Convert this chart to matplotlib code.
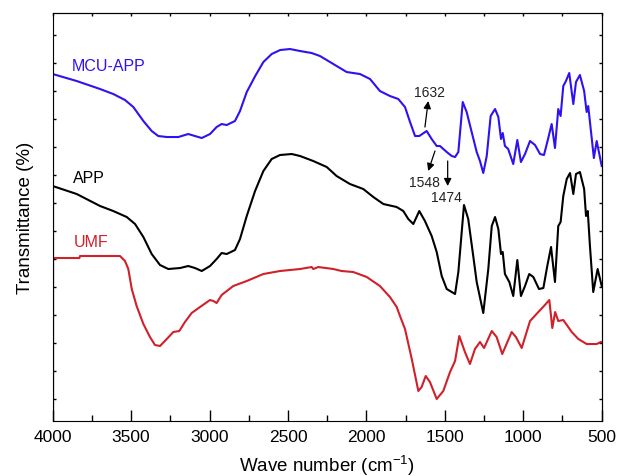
import matplotlib
matplotlib.use('Agg')
import matplotlib.pyplot as plt

plt.rcParams['font.family'] = ['Liberation Sans', 'DejaVu Sans']
plt.rcParams['mathtext.default'] = 'regular'

# FTIR spectra (transmittance in arbitrary, offset units)
mcu_wn = [4000, 3847, 3698, 3614, 3539, 3486, 3422, 3369, 3327, 3273, 3199, 3136, 3093,
          3050, 2997, 2955, 2923, 2891, 2838, 2806, 2763, 2709, 2657, 2604, 2550, 2487,
          2423, 2349, 2296, 2211, 2126, 2041, 1977, 1914, 1850, 1797, 1754, 1722, 1690,
          1663, 1616, 1584, 1552, 1531, 1488, 1456, 1435, 1414, 1386, 1361, 1329, 1297,
          1276, 1255, 1233, 1208, 1180, 1159, 1142, 1131, 1117, 1096, 1064, 1038, 1015,
          989, 957, 925, 893, 868, 847, 819, 798, 777, 762, 745, 728, 707, 681, 664,
          639, 612, 596, 586, 550, 532, 500]
mcu_t = [347, 340, 332, 327, 321, 314, 300, 290, 285, 284, 284, 287, 285,
         283, 287, 294, 297, 296, 300, 310, 329, 345, 359, 367, 371, 372,
         370, 368, 365, 357, 349, 347, 342, 330, 325, 322, 314, 299, 285,
         285, 290, 282, 275, 275, 269, 265, 264, 269, 319, 309, 289, 269,
         260, 248, 265, 305, 312, 304, 282, 288, 275, 272, 257, 281, 259,
         267, 280, 276, 267, 266, 279, 297, 273, 312, 305, 335, 340, 348, 317, 339,
         346, 330, 309, 315, 263, 280, 255]

app_wn = [4000, 3847, 3698, 3614, 3528, 3475, 3422, 3369, 3316, 3263, 3188, 3136, 3093,
          3050, 2997, 2955, 2923, 2891, 2838, 2806, 2763, 2710, 2657, 2604, 2551, 2476,
          2423, 2339, 2253, 2190, 2105, 2020, 1956, 1892, 1807, 1765, 1733, 1701, 1663,
          1627, 1584, 1552, 1520, 1488, 1435, 1414, 1378, 1351, 1319, 1297, 1255, 1223,
          1201, 1180, 1159, 1142, 1131, 1117, 1089, 1064, 1038, 1015, 989, 962, 936,
          900, 872, 847, 823, 798, 777, 762, 745, 723, 702, 681, 664, 639, 612, 600,
          589, 575, 554, 526, 500]
app_t = [235, 227, 215, 210, 204, 197, 184, 167, 156, 152, 153, 155, 153,
         150, 155, 162, 168, 167, 171, 182, 205, 230, 250, 262, 266, 267,
         265, 260, 254, 245, 237, 232, 224, 217, 214, 210, 202, 197, 210,
         200, 185, 169, 145, 132, 127, 149, 216, 202, 165, 139, 108, 152,
         195, 204, 192, 167, 169, 147, 139, 125, 161, 125, 135, 147, 144,
         132, 133, 155, 174, 139, 195, 199, 225, 242, 248, 227, 247, 249, 232, 205,
         210, 175, 129, 152, 135]

umf_wn = [4000, 3830, 3826, 3571, 3539, 3518, 3496, 3465, 3422, 3380, 3348, 3316, 3273,
          3231, 3193, 3157, 3114, 3061, 2997, 2976, 2955, 2923, 2849, 2763, 2657, 2551,
          2423, 2349, 2339, 2307, 2211, 2158, 2084, 1998, 1914, 1850, 1807, 1786, 1754,
          1711, 1669, 1648, 1622, 1595, 1552, 1510, 1467, 1435, 1408, 1372, 1340, 1308,
          1276, 1250, 1201, 1170, 1134, 1074, 1047, 1010, 957, 904, 868, 834, 815, 797,
          777, 745, 691, 649, 596, 532, 506, 500]
umf_t = [163, 163, 165, 165, 160, 152, 132, 115, 97, 84, 76, 75, 82,
         89, 90, 99, 108, 114, 121, 120, 118, 126, 135, 140, 147, 150,
         152, 154, 152, 154, 152, 150, 149, 144, 135, 124, 114, 105, 92,
         62, 30, 34, 45, 39, 22, 30, 49, 60, 85, 69, 57, 72,
         79, 73, 90, 84, 67, 89, 84, 73, 100, 109, 115, 121, 93, 109,
         100, 101, 89, 82, 77, 77, 79, 79]

names = ['APP', 'MCU-APP', 'UMF']
colors = ['black', '#2f12f0', '#d0202a']
label_pos = [(3873, 244), (3879, 356), (3869, 180)]

# peak marks on the MCU-APP curve: (text, text x, text y, arrow tail, arrow head)
peaks = [('1632', 1595, 329, (1627, 294), (1606, 320)),
         ('1548', 1627, 239, (1563, 270), (1606, 250)),
         ('1474', 1488, 224, (1482, 260), (1482, 235))]

fig = plt.figure(figsize=(6.26, 4.77), dpi=100)
ax = fig.add_axes([0.0842, 0.1153, 0.877, 0.8553])

series = [(app_wn, app_t), (mcu_wn, mcu_t), (umf_wn, umf_t)]
for (wn, t), name, c, (lx, ly) in zip(series, names, colors, label_pos):
    ax.plot(wn, t, color=c, lw=1.5, solid_joinstyle='round')
    ax.vlines(wn[0], 0, t[0], color=c, lw=1.5)
    ax.text(lx, ly, name, color=c, fontsize=11.5, ha='left', va='center')

for txt, tx, ty, tail, head in peaks:
    ax.text(tx, ty, txt, fontsize=10, ha='center', va='center', color='#222222')
    ax.annotate('', xy=head, xytext=tail,
                arrowprops=dict(arrowstyle='-|>', color='k', lw=0.9, mutation_scale=11,
                                shrinkA=0, shrinkB=0))

ax.set_xlim(4000, 500)
ax.set_ylim(0, 408)
ax.set_xticks([4000, 3500, 3000, 2500, 2000, 1500, 1000, 500])
ax.set_xticks(range(3750, 500, -500), minor=True)
ax.set_yticks(range(22, 390, 28))
ax.set_yticklabels([])
ax.tick_params(axis='x', which='major', direction='in', length=8, width=1, labelsize=12.5, pad=6)
ax.tick_params(axis='x', which='minor', direction='in', length=4, width=1)
ax.tick_params(axis='y', direction='in', length=2.5, width=1)

top = ax.secondary_xaxis('top')
top.set_xticks(range(4000, 499, -250))
top.set_xticklabels([])
top.tick_params(direction='in', length=2, width=1)
right = ax.secondary_yaxis('right')
right.set_yticks(range(22, 390, 28))
right.set_yticklabels([])
right.tick_params(direction='in', length=2, width=1)

ax.set_xlabel('Wave number (cm$^{-1}$)', fontsize=13.5, labelpad=6)
ax.set_ylabel('Transmittance (%)', fontsize=13.5, labelpad=10)

plt.savefig('out.png', dpi=100)
